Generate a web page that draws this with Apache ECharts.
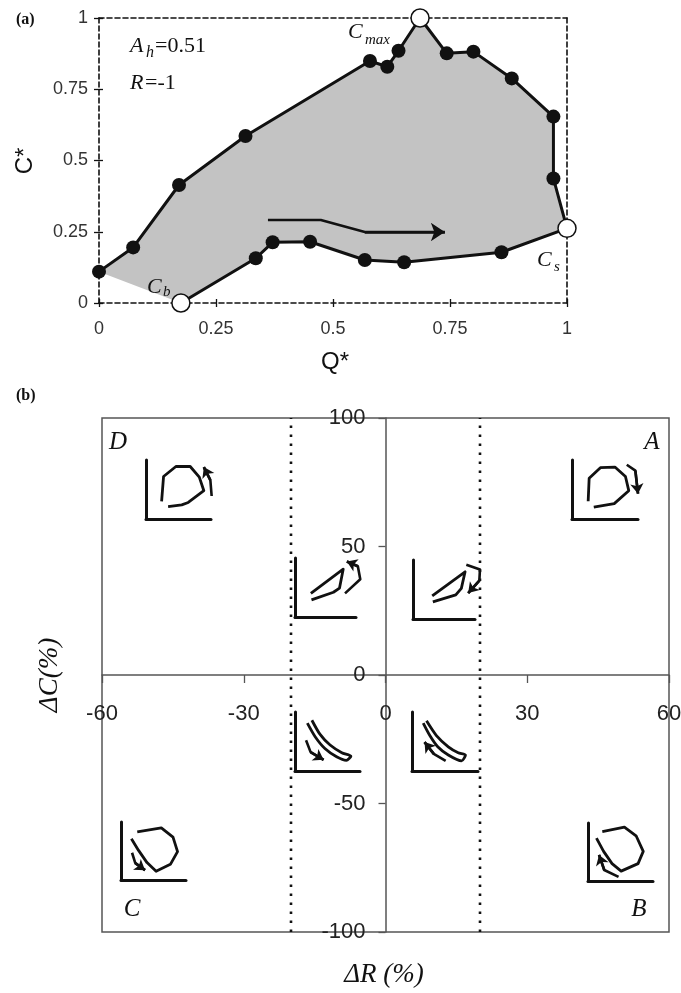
<!DOCTYPE html>
<html><head><meta charset="utf-8">
<script src="https://cdn.jsdelivr.net/npm/echarts@6/dist/echarts.min.js"></script>
<style>html,body{margin:0;padding:0;background:#fff}#c{width:681px;height:993px}</style>
</head><body><div id="c"></div>
<script>
// ---------- Panel (a) data ----------
const qTicks = [0, 0.25, 0.5, 0.75, 1];
const cTicks = [0, 0.25, 0.5, 0.75, 1];
const pathQ = [0, 0.073, 0.171, 0.313, 0.579, 0.616, 0.640, 0.686, 0.743, 0.800, 0.882, 0.971, 0.971, 1.0, 0.860, 0.652, 0.568, 0.451, 0.371, 0.335, 0.175];
const pathC = [0.110, 0.195, 0.414, 0.586, 0.849, 0.829, 0.885, 1.0, 0.876, 0.882, 0.788, 0.654, 0.437, 0.262, 0.178, 0.143, 0.151, 0.215, 0.213, 0.157, 0.0];
const openQ = [0.175, 0.686, 1.0];   // Cb, Cmax, Cs
const openC = [0.0, 1.0, 0.262];
const flowArrowQ = [0.361, 0.474, 0.568, 0.739];
const flowArrowC = [0.291, 0.291, 0.249, 0.249];

// ---------- Panel (b) data ----------
const dRTicks = [-60, -30, 0, 30, 60];
const dCTicks = [-100, -50, 0, 50, 100];
const thresholds = [-20, 20];

// inset hysteresis sketches (normalised Q*, C* units)
const insetD_loopX = [0.24, 0.27, 0.46, 0.68, 0.82, 0.89, 0.65, 0.55, 0.34];
const insetD_loopY = [0.30, 0.72, 0.89, 0.89, 0.71, 0.48, 0.28, 0.24, 0.21];
const insetD_arrX = [1.01, 0.99, 0.89];
const insetD_arrY = [0.39, 0.66, 0.88];

const insetA_loopX = [0.245, 0.26, 0.43, 0.65, 0.81, 0.86, 0.64, 0.33];
const insetA_loopY = [0.30, 0.69, 0.87, 0.88, 0.72, 0.48, 0.26, 0.20];
const insetA_arrX = [0.83, 0.96, 1.0];
const insetA_arrY = [0.92, 0.82, 0.43];

const insetC_loopX = [0.25, 0.62, 0.80, 0.87, 0.76, 0.54, 0.40, 0.27, 0.16];
const insetC_loopY = [0.83, 0.90, 0.74, 0.49, 0.27, 0.15, 0.30, 0.51, 0.71];
const insetC_arrX = [0.17, 0.22, 0.37];
const insetC_arrY = [0.47, 0.29, 0.17];

const insetB_loopX = [0.22, 0.56, 0.74, 0.85, 0.77, 0.51, 0.37, 0.24, 0.13];
const insetB_loopY = [0.85, 0.93, 0.78, 0.51, 0.30, 0.17, 0.30, 0.51, 0.74];
const insetB_arrX = [0.47, 0.25, 0.17];
const insetB_arrY = [0.07, 0.19, 0.45];

const insetUL_loopX = [0.26, 0.79, 0.73, 0.63, 0.27];
const insetUL_loopY = [0.40, 0.81, 0.49, 0.42, 0.29];
const insetUL_arrX = [0.82, 1.07, 1.03, 0.85];
const insetUL_arrY = [0.40, 0.64, 0.86, 0.94];

const insetUR_loopX = [0.31, 0.84, 0.78, 0.69, 0.32];
const insetUR_loopY = [0.39, 0.80, 0.52, 0.41, 0.29];
const insetUR_arrX = [0.86, 1.08, 1.07, 0.89];
const insetUR_arrY = [0.92, 0.84, 0.65, 0.44];

const insetLL_loopX = [0.26, 0.38, 0.54, 0.72, 0.86, 0.79, 0.64, 0.46, 0.31, 0.19];
const insetLL_loopY = [0.86, 0.63, 0.44, 0.31, 0.25, 0.18, 0.24, 0.38, 0.58, 0.81];
const insetLL_arrX = [0.17, 0.24, 0.44];
const insetLL_arrY = [0.52, 0.32, 0.19];

const insetLR_loopX = [0.22, 0.37, 0.55, 0.70, 0.81, 0.75, 0.55, 0.39, 0.27, 0.17];
const insetLR_loopY = [0.85, 0.60, 0.41, 0.31, 0.27, 0.17, 0.27, 0.41, 0.60, 0.81];
const insetLR_arrX = [0.51, 0.33, 0.19];
const insetLR_arrY = [0.17, 0.29, 0.49];

// ---------- layout ----------
const BLACK = '#111';
const SANS = 'Liberation Sans, Arial, sans-serif';
const SERIF = 'Liberation Serif, Times New Roman, serif';

const insets = [
  {box:{left:146, top:460, width:65, height:59}, lx:insetD_loopX, ly:insetD_loopY, ax:insetD_arrX, ay:insetD_arrY, smooth:false},
  {box:{left:572, top:460, width:66, height:59}, lx:insetA_loopX, ly:insetA_loopY, ax:insetA_arrX, ay:insetA_arrY, smooth:false},
  {box:{left:121, top:822, width:65, height:58}, lx:insetC_loopX, ly:insetC_loopY, ax:insetC_arrX, ay:insetC_arrY, smooth:false},
  {box:{left:588, top:823, width:65, height:58}, lx:insetB_loopX, ly:insetB_loopY, ax:insetB_arrX, ay:insetB_arrY, smooth:false},
  {box:{left:295, top:558, width:61, height:59}, lx:insetUL_loopX, ly:insetUL_loopY, ax:insetUL_arrX, ay:insetUL_arrY, smooth:false},
  {box:{left:413, top:560, width:62, height:59}, lx:insetUR_loopX, ly:insetUR_loopY, ax:insetUR_arrX, ay:insetUR_arrY, smooth:false},
  {box:{left:295, top:712, width:65, height:59}, lx:insetLL_loopX, ly:insetLL_loopY, ax:insetLL_arrX, ay:insetLL_arrY, smooth:0.25},
  {box:{left:412, top:712, width:66, height:59}, lx:insetLR_loopX, ly:insetLR_loopY, ax:insetLR_arrX, ay:insetLR_arrY, smooth:0.25}
];

const gridBBox = {left:102, top:418, width:567, height:514};
const grids = [
  {left:99, top:18, width:468, height:285, outerBoundsMode:'none'},
  Object.assign({outerBoundsMode:'none', show:true, borderColor:'#555', borderWidth:1.5, backgroundColor:'transparent'}, gridBBox)
].concat(insets.map(s => Object.assign({outerBoundsMode:'none'}, s.box)));

const dashLine = {color:BLACK, width:1.6, type:[5,3]};
const rng = t => ({min:t[0], max:t[t.length-1], interval:t[1]-t[0]});
// offsets that place the (b) axes through the origin
const dCmin = dCTicks[0], dCmax = dCTicks[dCTicks.length-1];
const dRmin = dRTicks[0], dRmax = dRTicks[dRTicks.length-1];
const xOffB = -gridBBox.height * (0 - dCmin) / (dCmax - dCmin);
const yOffB = -gridBBox.width * (0 - dRmin) / (dRmax - dRmin);

const xAxes = [
  Object.assign({gridIndex:0, type:'value', position:'bottom',
    axisLine:{show:true, onZero:false, lineStyle:dashLine},
    axisTick:{show:true, length:4, lineStyle:{color:BLACK, width:1.3}},
    axisLabel:{show:true, margin:17, fontSize:18, color:'#333', fontFamily:SANS},
    splitLine:{show:false}}, rng(qTicks)),
  Object.assign({gridIndex:0, type:'value', position:'bottom',
    axisLine:{show:false, onZero:false},
    axisTick:{show:true, inside:true, length:4, lineStyle:{color:BLACK, width:1.3}},
    axisLabel:{show:false}, splitLine:{show:false}}, rng(qTicks)),
  Object.assign({gridIndex:0, type:'value', position:'top',
    axisLine:{show:true, onZero:false, lineStyle:dashLine},
    axisTick:{show:false}, axisLabel:{show:false}, splitLine:{show:false}}, rng(qTicks)),
  Object.assign({gridIndex:1, type:'value', position:'bottom', offset:xOffB,
    axisLine:{show:true, onZero:false, lineStyle:{color:'#555', width:1.5}},
    axisTick:{show:true, length:8, lineStyle:{color:'#555', width:1.3}},
    axisLabel:{show:true, margin:28, fontSize:22, color:'#222', fontFamily:SANS},
    splitLine:{show:false}}, rng(dRTicks))
].concat(insets.map((s, i) => ({gridIndex:2+i, type:'value', min:0, max:1,
    axisLine:{show:true, onZero:false, lineStyle:{color:BLACK, width:3}},
    axisTick:{show:false}, axisLabel:{show:false}, splitLine:{show:false}})));

const yAxes = [
  Object.assign({gridIndex:0, type:'value', position:'left',
    axisLine:{show:true, onZero:false, lineStyle:dashLine},
    axisTick:{show:true, length:5, lineStyle:{color:BLACK, width:1.3}},
    axisLabel:{show:true, margin:11, fontSize:18, color:'#333', fontFamily:SANS},
    splitLine:{show:false}}, rng(cTicks)),
  Object.assign({gridIndex:0, type:'value', position:'left',
    axisLine:{show:false, onZero:false},
    axisTick:{show:true, inside:true, length:4, lineStyle:{color:BLACK, width:1.3}},
    axisLabel:{show:false}, splitLine:{show:false}}, rng(cTicks)),
  Object.assign({gridIndex:0, type:'value', position:'right',
    axisLine:{show:true, onZero:false, lineStyle:dashLine},
    axisTick:{show:false}, axisLabel:{show:false}, splitLine:{show:false}}, rng(cTicks)),
  Object.assign({gridIndex:1, type:'value', position:'left', offset:yOffB,
    axisLine:{show:true, onZero:false, lineStyle:{color:'#555', width:1.5}},
    axisTick:{show:true, length:7, lineStyle:{color:'#555', width:1.3}},
    axisLabel:{show:true, margin:20, fontSize:22, color:'#222', fontFamily:SANS},
    splitLine:{show:false}}, rng(dCTicks))
].concat(insets.map((s, i) => ({gridIndex:2+i, type:'value', min:0, max:1,
    axisLine:{show:true, onZero:false, lineStyle:{color:BLACK, width:3}},
    axisTick:{show:false}, axisLabel:{show:false}, splitLine:{show:false}})));

const pts = (xs, ys) => xs.map((v, i) => [v, ys[i]]);

const series = [
  { // grey hysteresis area
    type:'custom', xAxisIndex:0, yAxisIndex:0, silent:true, z:1,
    data:[[pathQ[0], pathC[0]]],
    renderItem: (params, api) => ({
      type:'polygon',
      shape:{points: pts(pathQ, pathC).map(p => api.coord(p))},
      style:{fill:'#c3c3c3', stroke:'none'}
    })
  },
  {
    type:'line', xAxisIndex:0, yAxisIndex:0, z:3, silent:true, clip:false,
    data: pts(pathQ, pathC),
    symbol:'circle', symbolSize:14, showSymbol:true,
    itemStyle:{color:BLACK, opacity:1},
    lineStyle:{color:BLACK, width:3}
  },
  {
    type:'scatter', xAxisIndex:0, yAxisIndex:0, z:4, silent:true, clip:false,
    data: pts(openQ, openC), symbol:'circle', symbolSize:18,
    itemStyle:{color:'#ffffff', opacity:1, borderColor:BLACK, borderWidth:1.5}
  },
  {
    type:'line', xAxisIndex:0, yAxisIndex:0, z:3, silent:true,
    data: pts(flowArrowQ, flowArrowC), symbol:'none',
    lineStyle:{color:BLACK, width:2.5}
  },
  {
    type:'lines', coordinateSystem:'cartesian2d', xAxisIndex:0, yAxisIndex:0, z:3, silent:true,
    symbol:['none','arrow'], symbolSize:[10,14],
    lineStyle:{color:BLACK, width:2.5, opacity:1},
    data:[{coords: pts(flowArrowQ, flowArrowC).slice(-2)}]
  }
];

thresholds.forEach(t => series.push({
  type:'line', xAxisIndex:3, yAxisIndex:3, silent:true, symbol:'none', z:2,
  data:[[t, dCmin], [t, dCmax]],
  lineStyle:{color:BLACK, width:2.6, type:[2.6,6.4], cap:'butt'}
}));

insets.forEach((s, i) => {
  const ai = 4 + i;
  series.push({type:'line', xAxisIndex:ai, yAxisIndex:ai, silent:true, symbol:'none', clip:false,
    smooth:s.smooth, data:pts(s.lx, s.ly), lineStyle:{color:BLACK, width:2.8, join:'round'}, z:3});
  // arrow body (may reach slightly past the sketch axes, so drawn unclipped)
  series.push({type:'lines', coordinateSystem:'cartesian2d', polyline:true, xAxisIndex:ai, yAxisIndex:ai,
    silent:true, clip:false, z:3,
    lineStyle:{color:BLACK, width:2.6, opacity:1, join:'round'},
    data:[{coords: pts(s.ax, s.ay)}]});
  series.push({type:'lines', coordinateSystem:'cartesian2d', xAxisIndex:ai, yAxisIndex:ai, silent:true, clip:false, z:3,
    symbol:['none','arrow'], symbolSize:[7,10],
    lineStyle:{color:BLACK, width:2.6, opacity:1},
    data:[{coords: pts(s.ax, s.ay).slice(-2)}]});
});

const txt = (text, x, y, o) => ({type:'text', x:x, y:y, rotation:(o && o.rot) || 0, z:10,
  style:Object.assign({text:text, fill:'#111', align:'left', verticalAlign:'middle'}, o && o.style)});
const serifIt = (size) => ({font:'italic ' + size + 'px ' + SERIF});
const serifN = (size) => ({font:size + 'px ' + SERIF});

const graphic = [
  txt('(a)', 16, 20, {style:{font:'bold 16px ' + SERIF}}),
  txt('(b)', 16, 396, {style:{font:'bold 16px ' + SERIF}}),
  txt('A', 130, 46, {style:serifIt(22)}),
  txt('h', 146, 53, {style:serifIt(16)}),
  txt('=0.51', 155, 46, {style:serifN(22)}),
  txt('R', 130, 83, {style:serifIt(22)}),
  txt('=-1', 145, 83, {style:serifN(22)}),
  txt('C', 348, 32, {style:serifIt(22)}),
  txt('max', 365, 40, {style:serifIt(15)}),
  txt('C', 147, 287, {style:serifIt(22)}),
  txt('b', 163, 292, {style:serifIt(15)}),
  txt('C', 537, 260, {style:serifIt(22)}),
  txt('s', 554, 267, {style:serifIt(15)}),
  txt('Q*', 335, 362, {style:{font:'24px ' + SANS, align:'center'}}),
  txt('C*', 25, 161, {rot:Math.PI/2, style:{font:'24px ' + SANS, align:'center'}}),
  txt('D', 118, 442, {style:Object.assign(serifIt(25), {align:'center'})}),
  txt('A', 652, 442, {style:Object.assign(serifIt(25), {align:'center'})}),
  txt('C', 132, 909, {style:Object.assign(serifIt(25), {align:'center'})}),
  txt('B', 639, 909, {style:Object.assign(serifIt(25), {align:'center'})}),
  txt('ΔC(%)', 50, 675, {rot:Math.PI/2, style:Object.assign(serifIt(27), {align:'center'})}),
  txt('ΔR (%)', 384, 975, {style:Object.assign(serifIt(27), {align:'center'})})
];

const chart = echarts.init(document.getElementById('c'), null, {width:681, height:993});
chart.setOption({
  animation:false,
  backgroundColor:'#fff',
  grid: grids,
  xAxis: xAxes,
  yAxis: yAxes,
  series: series,
  graphic: graphic
});
</script></body></html>
